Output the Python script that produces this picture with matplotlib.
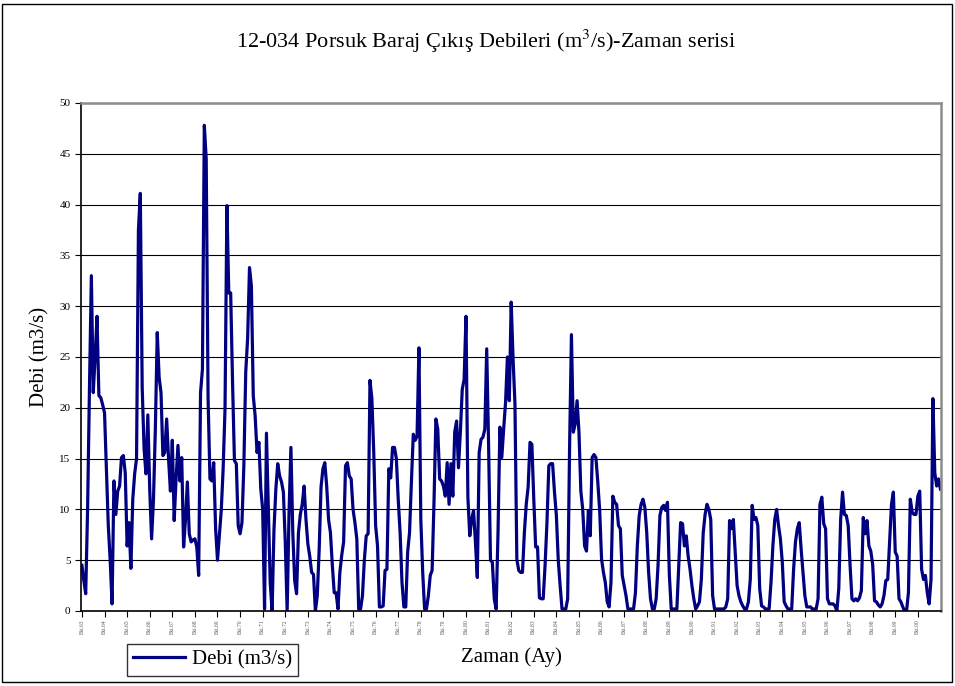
import numpy as np
import matplotlib.pyplot as plt
from matplotlib.patches import Rectangle

plt.rcParams['font.family'] = ['Liberation Serif', 'DejaVu Serif']
plt.rcParams['mathtext.fontset'] = 'stix'

# monthly outflow (m3/s), one row per water year starting in October (Eki)
debi_rows = [
    [4.5, 3.0, 1.7, 10, 22, 33, 21.5, 25, 29, 21.2, 21, 20.3],             # 63
    [19.5, 14, 8.4, 5, 0.7, 12.8, 9.5, 11.8, 12.3, 15.1, 15.3, 13.6],       # 64
    [6.4, 8.7, 4.2, 11, 13.5, 15, 37.5, 41.1, 22, 16, 13.5, 19.3],          # 65
    [12, 7.1, 11, 18, 27.4, 23, 21.5, 15.3, 15.6, 18.9, 15, 11.8],          # 66
    [16.8, 8.9, 13, 16.3, 12.8, 15.1, 6.3, 9, 12.7, 7.6, 6.8, 7],           # 67
    [7.1, 6.3, 3.5, 21.5, 23.8, 47.8, 44.5, 20.9, 13, 12.8, 14.6, 8.1],     # 68
    [5, 7.5, 9.9, 14, 19.9, 39.9, 31.3, 31.3, 22.5, 14.8, 14.5, 8.4],       # 69
    [7.6, 8.7, 14.3, 23.5, 26.8, 33.8, 32, 21.2, 19.2, 15.6, 16.6, 12],     # 70
    [10, 0.2, 17.5, 10, 2.8, 0, 8, 12, 14.5, 13.3, 12.7, 11.7],             # 71
    [6.8, 0, 9.7, 16.1, 7.7, 3, 1.7, 7.7, 9.5, 10.5, 12.3, 9],              # 72
    [6.6, 5.4, 3.8, 3.6, 0, 1.5, 6, 12.2, 14, 14.6, 12.3, 9],               # 73
    [7.7, 4.5, 1.8, 1.8, 0.2, 3.8, 5.5, 6.8, 14.3, 14.6, 13.3, 13],         # 74
    [10, 8.7, 7.1, 0.2, 0.2, 1.5, 5, 7.4, 7.6, 22.7, 20.9, 15.6],           # 75
    [8.4, 6.4, 0.4, 0.4, 0.5, 4, 4.1, 14, 13.1, 16.1, 16.1, 15],            # 76
    [11, 7.7, 2.8, 0.4, 0.4, 5.8, 7.7, 12.7, 17.4, 16.8, 17.2, 25.9],       # 77
    [9, 3.8, 0.2, 0.2, 1.5, 3.5, 4, 10.7, 18.9, 17.9, 13, 12.8],            # 78
    [12.3, 11.3, 14.6, 10.5, 14.5, 11.3, 17.6, 18.7, 14.1, 17.6, 21.8, 22.8],  # 79
    [29, 11.2, 7.4, 9, 9.9, 6.8, 3.3, 15.6, 16.9, 17.1, 17.9, 25.8],        # 80
    [16.3, 5, 4.8, 1.2, 0.2, 7.7, 18.1, 15.1, 17.9, 20.5, 25, 20.7],        # 81
    [30.4, 24.8, 20.4, 5.1, 4, 3.8, 3.8, 7.7, 10.5, 12.2, 16.6, 16.4],      # 82
    [11, 6.3, 6.3, 1.3, 1.2, 1.2, 4.5, 8.7, 14.3, 14.5, 14.5, 11.7],        # 83
    [9.4, 5, 2.5, 0.2, 0.2, 0.2, 1.2, 15.9, 27.2, 17.6, 18.4, 20.7],        # 84
    [17.6, 11.8, 10, 6.4, 5.9, 9.9, 7.4, 15.1, 15.4, 15.1, 12.7, 9.9],      # 85
    [5.1, 3.8, 2.8, 0.9, 0.4, 2.8, 11.3, 10.7, 10.5, 8.4, 8.1, 3.5],        # 86
    [2.5, 1.5, 0.2, 0.2, 0.2, 0.2, 1.8, 6.4, 9.4, 10.5, 11, 10.2],          # 87
    [7.7, 3.8, 1.2, 0.2, 0.2, 1.2, 4.5, 9.4, 10.2, 10.4, 9.9, 10.7],        # 88
    [3.6, 0.2, 0.2, 0.2, 0.2, 4.5, 8.7, 8.6, 6.4, 7.4, 5.4, 4.1],           # 89
    [2.5, 1.2, 0.2, 0.5, 0.9, 3.1, 7.7, 9.5, 10.5, 10, 9, 1.5],             # 90
    [0.2, 0.2, 0.2, 0.2, 0.2, 0.2, 0.4, 1.2, 8.9, 8.1, 9, 5.8],             # 91
    [2.5, 1.5, 0.9, 0.5, 0.2, 0.2, 0.9, 3.1, 10.4, 9, 9.2, 8.4],            # 92
    [2.2, 0.5, 0.4, 0.2, 0.2, 0.2, 2.8, 6.4, 9, 10, 8.4, 7.1],              # 93
    [4.8, 0.9, 0.5, 0.2, 0.2, 0.2, 4.1, 6.8, 8.1, 8.7, 6.1, 3.8],           # 94
    [1.5, 0.4, 0.4, 0.4, 0.2, 0.2, 0.2, 1.2, 10.5, 11.2, 8.6, 8.1],         # 95
    [1.2, 0.7, 0.7, 0.7, 0.5, 0, 2.2, 9, 11.7, 9.5, 9.4, 8.4],              # 96
    [4.5, 1.2, 1, 1.2, 1, 1.3, 2, 9.2, 7.6, 8.9, 6.4, 5.9],                 # 97
    [4.6, 1, 0.9, 0.6, 0.4, 0.7, 1.5, 3, 3.1, 6.8, 10.5, 11.7],             # 98
    [5.8, 5.4, 1.2, 0.9, 0.4, 0, 0, 1.8, 11, 9.7, 9.5, 9.5],                # 99
    [11.3, 11.8, 4.1, 3.1, 3.5, 1.8, 0.7, 3.1, 20.9, 13.6, 12.3, 13],       # 00
    [12],                                                                   # Eki.01
]
debi = [v for row in debi_rows for v in row]
x = np.arange(len(debi))

year_labels = ['Eki.%02d' % (y % 100) for y in range(1963, 2001)]
year_ticks = np.arange(len(year_labels)) * 12

fig = plt.figure(figsize=(9.55, 6.86), dpi=100)
fig.patches.append(Rectangle((2 / 955, 4 / 686), 950 / 955, 678 / 686,
                             transform=fig.transFigure, fill=False,
                             edgecolor='black', linewidth=1))

ax = fig.add_axes([81 / 955, 1 - 611 / 686, 860 / 955, 508 / 686])
line, = ax.plot(x, debi, color='#000080', linewidth=2.3, label='Debi (m3/s)')

ax.set_xlim(-0.5, 456.3)
ax.set_ylim(0, 50)
ax.set_yticks(np.arange(0, 51, 5))
ax.set_xticks(year_ticks)
ax.set_xticklabels(year_labels, rotation=90, fontsize=4, color='#555555')
ax.tick_params(axis='y', labelsize=8, length=4, direction='out')
ax.tick_params(axis='x', length=4, direction='out', pad=2)
ax.yaxis.grid(True, color='black', linewidth=0.8)
ax.set_axisbelow(True)

for side in ['top', 'right']:
    ax.spines[side].set_color('#8c8c8c')
    ax.spines[side].set_linewidth(1.8)
for side in ['left', 'bottom']:
    ax.spines[side].set_color('black')
    ax.spines[side].set_linewidth(1.2)

fig.text(0.509, 0.939, '12-034 Porsuk Baraj Çıkış Debileri (m$^3$/s)-Zaman serisi',
         ha='center', va='center', fontsize=16)
fig.text(40 / 955, 1 - 357 / 686, 'Debi (m3/s)', rotation=90,
         ha='center', va='center', fontsize=15)
fig.text(511 / 955, 1 - 657 / 686, 'Zaman (Ay)', ha='center', va='center', fontsize=15)

leg = fig.legend(handles=[line], loc='lower left', bbox_to_anchor=(127 / 955, 10 / 686),
                 borderaxespad=0, fontsize=15, frameon=True, fancybox=False,
                 handlelength=2.5, borderpad=0.3, handletextpad=0.3)
leg.get_frame().set_edgecolor('black')
leg.get_frame().set_linewidth(1)

plt.savefig('out.png', dpi=100)
